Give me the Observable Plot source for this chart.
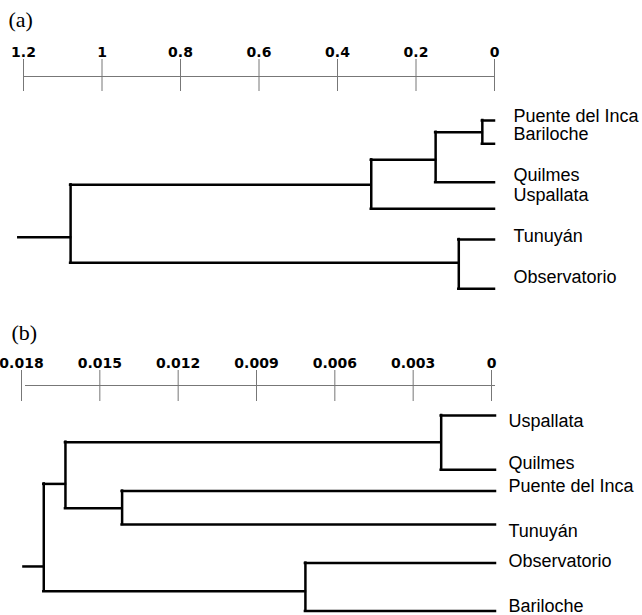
<!DOCTYPE html>
<html>
<head>
<meta charset="utf-8">
<script src="https://cdn.jsdelivr.net/npm/d3@7"></script>
<script src="https://cdn.jsdelivr.net/npm/@observablehq/plot@0.6"></script>
<style>
  body { margin: 0; background: #fff; }
  #chart svg { display: block; }
</style>
</head>
<body>
<div id="chart"></div>
<script>
// ---------- Panel (a) ----------
const panelLabelA = "(a)";
const ticksA = [1.2, 1, 0.8, 0.6, 0.4, 0.2, 0];
const tickLabelsA = ["1.2", "1", "0.8", "0.6", "0.4", "0.2", "0"];
const leavesA = ["Puente del Inca", "Bariloche", "Quilmes", "Uspallata", "Tunuyán", "Observatorio"];
const leafRowA = [0, 0.97, 2.57, 3.68, 4.96, 7.01];
const labelRowA = [0.07, 0.83, 2.52, 3.34, 5.07, 6.78];
const mergeLeftA = ["Puente del Inca", "n1", "n2", "Tunuyán", "n3"];
const mergeRightA = ["Bariloche", "Quilmes", "Uspallata", "Observatorio", "n4"];
const mergeHeightA = [0.031, 0.150, 0.314, 0.091, 1.080];
const mergeRowA = [0.49, 1.64, 2.68, 5.93, 4.86];
const rootTipA = 1.212;

// ---------- Panel (b) ----------
const panelLabelB = "(b)";
const ticksB = [0.018, 0.015, 0.012, 0.009, 0.006, 0.003, 0];
const tickLabelsB = ["0.018", "0.015", "0.012", "0.009", "0.006", "0.003", "0"];
const leavesB = ["Uspallata", "Quilmes", "Puente del Inca", "Tunuyán", "Observatorio", "Bariloche"];
const leafRowB = [0, 2.26, 3.15, 4.54, 6.15, 8.15];
const labelRowB = [0.49, 2.22, 3.20, 5.07, 6.32, 8.17];
const mergeLeftB = ["Uspallata", "Puente del Inca", "n1", "Observatorio", "n3"];
const mergeRightB = ["Quilmes", "Tunuyán", "n2", "Bariloche", "n4"];
const mergeHeightB = [0.00208, 0.0143, 0.01647, 0.00728, 0.0173];
const mergeRowB = [1.11, 3.86, 2.85, 7.32, 6.29];
const rootTipB = 0.01806;

const lineStyle = {stroke: "#000", strokeWidth: 2.5, strokeLinecap: "square"};
const labelFont = "'Liberation Sans', Arial, Helvetica, sans-serif";

function dendrogram(cfg) {
  const pos = new Map();
  cfg.leaves.forEach((name, i) => pos.set(name, {h: 0, row: cfg.leafRow[i]}));
  cfg.mergeHeight.forEach((h, i) => pos.set("n" + (i + 1), {h, row: cfg.mergeRow[i]}));
  const verticals = cfg.mergeHeight.map((h, i) => ({
    x: h, y1: pos.get(cfg.mergeLeft[i]).row, y2: pos.get(cfg.mergeRight[i]).row
  }));
  const horizontals = cfg.mergeHeight.flatMap((h, i) =>
    [cfg.mergeLeft[i], cfg.mergeRight[i]].map(c => ({y: pos.get(c).row, x1: h, x2: pos.get(c).h}))
  );
  const r = cfg.mergeHeight.length - 1;
  horizontals.push({y: cfg.mergeRow[r], x1: cfg.rootTip, x2: cfg.mergeHeight[r]});
  const labels = cfg.leaves.map((name, i) => ({name, x: 0, y: cfg.labelRow[i]}));

  return Plot.plot({
    width: 642,
    height: cfg.height,
    marginTop: cfg.marginTop,
    marginBottom: 0,
    marginLeft: cfg.marginLeft,
    marginRight: cfg.marginRight,
    style: {background: "white", overflow: "visible"},
    x: {domain: [cfg.ticks[0], 0], label: null},
    y: {domain: cfg.yDomain, reverse: true, axis: null},
    marks: [
      Plot.ruleY([cfg.yDomain[0]], {dy: cfg.axisLineDy, stroke: "#777", strokeWidth: 1}),
      Plot.axisX({
        anchor: "top",
        ticks: cfg.ticks,
        tickSize: cfg.tickSize,
        tickPadding: 2,
        tickFormat: d => cfg.tickLabels[cfg.ticks.indexOf(d)],
        fontSize: 14,
        fontWeight: 900,
        fontFamily: "'DejaVu Sans', sans-serif",
        stroke: "#777",
        fill: "#000",
        dx: cfg.tickDx,
        label: null
      }),
      Plot.ruleX(verticals, {x: "x", y1: "y1", y2: "y2", ...lineStyle}),
      Plot.ruleY(horizontals, {y: "y", x1: "x1", x2: "x2", ...lineStyle}),
      Plot.text(labels, {
        x: "x", y: "y", text: "name",
        textAnchor: "start", lineAnchor: "bottom",
        dx: cfg.labelDx, fontSize: 18, fontFamily: labelFont, fill: "#000"
      }),
      Plot.text([cfg.panelLabel], {
        frameAnchor: "top-left", text: d => d,
        textAnchor: "start", lineAnchor: "bottom",
        dx: cfg.panelDx, dy: cfg.panelDy,
        fontSize: 22, fontFamily: "'Liberation Serif', 'Times New Roman', serif", fill: "#000"
      })
    ]
  });
}

const chart = document.getElementById("chart");
chart.appendChild(dendrogram({
  height: 300, marginTop: 90, marginLeft: 23, marginRight: 148,
  yDomain: [-1.25, 7.5], ticks: ticksA, tickLabels: tickLabelsA, tickSize: 32, tickDx: 0,
  axisLineDy: -14, labelDx: 19, panelLabel: panelLabelA, panelDx: -15, panelDy: -64,
  leaves: leavesA, leafRow: leafRowA, labelRow: labelRowA,
  mergeLeft: mergeLeftA, mergeRight: mergeRightA, mergeHeight: mergeHeightA, mergeRow: mergeRowA,
  rootTip: rootTipA
}));
chart.appendChild(dendrogram({
  height: 315, marginTop: 100, marginLeft: 25, marginRight: 147,
  yDomain: [-0.625, 8.333], ticks: ticksB, tickLabels: tickLabelsB, tickSize: 31, tickDx: -4,
  axisLineDy: -15, labelDx: 13, panelLabel: panelLabelB, panelDx: -14, panelDy: -61,
  leaves: leavesB, leafRow: leafRowB, labelRow: labelRowB,
  mergeLeft: mergeLeftB, mergeRight: mergeRightB, mergeHeight: mergeHeightB, mergeRow: mergeRowB,
  rootTip: rootTipB
}));
</script>
</body>
</html>
